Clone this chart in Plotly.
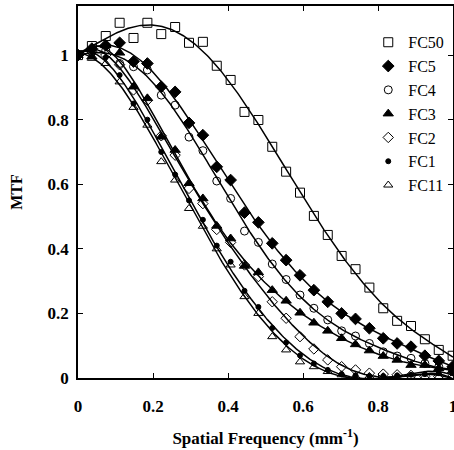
import numpy as np
import plotly.graph_objects as go

freq = [round(i * 0.037, 3) for i in range(28)]

fc50 = [1.0, 1.028, 1.059, 1.10, 1.053, 1.10, 1.065, 1.087, 1.038, 1.041, 0.967, 0.923, 0.824, 0.799,
        0.716, 0.639, 0.574, 0.502, 0.443, 0.378, 0.337, 0.280, 0.216, 0.177, 0.161, 0.120, 0.087, 0.069]
fc5 = [1.0, 1.02, 1.03, 1.038, 0.98, 0.974, 0.902, 0.886, 0.79, 0.752, 0.654, 0.613, 0.512, 0.482,
       0.417, 0.365, 0.318, 0.272, 0.236, 0.200, 0.183, 0.154, 0.123, 0.107, 0.097, 0.069, 0.053, 0.035]
fc4 = [1.0, 1.01, 1.015, 0.974, 0.964, 0.954, 0.876, 0.845, 0.746, 0.704, 0.61, 0.556, 0.455, 0.42,
       0.353, 0.305, 0.257, 0.216, 0.18, 0.146, 0.130, 0.107, 0.081, 0.068, 0.061, 0.045, 0.035, 0.025]
fc3 = [1.0, 0.995, 1.03, 1.007, 0.902, 0.866, 0.747, 0.706, 0.603, 0.556, 0.471, 0.432, 0.347, 0.327,
       0.272, 0.239, 0.202, 0.171, 0.146, 0.123, 0.104, 0.085, 0.068, 0.056, 0.040, 0.040, 0.030, 0.023]
fc2 = [1.0, 1.01, 1.0, 0.97, 0.892, 0.86, 0.75, 0.69, 0.587, 0.54, 0.46, 0.42, 0.35, 0.314,
       0.236, 0.185, 0.128, 0.09, 0.056, 0.035, 0.025, 0.015, 0.012, 0.010, 0.008, 0.005, 0.005, 0.005]
fc1 = [1.0, 1.013, 0.993, 0.938, 0.85, 0.80, 0.70, 0.63, 0.55, 0.49, 0.41, 0.36, 0.27, 0.22,
       0.155, 0.11, 0.07, 0.045, 0.025, 0.012, 0.008, 0.006, 0.006, 0.008, 0.010, 0.012, 0.015, 0.015]
fc11 = [1.0, 0.99, 0.974, 0.917, 0.838, 0.783, 0.67, 0.613, 0.525, 0.47, 0.40, 0.35, 0.252, 0.20,
        0.128, 0.087, 0.05, 0.035, 0.02, 0.01, 0.005, 0.005, 0.004, 0.004, 0.004, 0.004, 0.004, 0.004]

tick_vals = [0, 0.2, 0.4, 0.6, 0.8, 1]
tick_text = ["0", "0.2", "0.4", "0.6", "0.8", "1"]

series = [
    ("FC50", fc50, "square-open", 9),
    ("FC5", fc5, "diamond", 9),
    ("FC4", fc4, "circle-open", 8),
    ("FC3", fc3, "triangle-up", 9),
    ("FC2", fc2, "diamond-open", 8),
    ("FC1", fc1, "circle", 5),
    ("FC11", fc11, "triangle-up-open", 8),
]

fig = go.Figure()
xs = np.linspace(0, 1, 300)
for name, ys, sym, sz in series:
    coef = np.polyfit(freq, ys, 6)
    fy = np.polyval(coef, xs)
    fig.add_trace(go.Scatter(x=xs, y=fy, mode="lines", line=dict(color="black", width=1.5),
                             showlegend=False, hoverinfo="skip"))
for name, ys, sym, sz in series:
    fig.add_trace(go.Scatter(x=freq, y=ys, mode="markers", name=name,
                             marker=dict(symbol=sym, size=sz, color="black",
                                         line=dict(color="black", width=1))))

font_serif = "Liberation Serif, Times New Roman, serif"
fig.update_layout(
    width=454, height=450,
    margin=dict(l=78, r=1, t=6, b=72, autoexpand=False),
    paper_bgcolor="white", plot_bgcolor="white",
    font=dict(family=font_serif, color="black"),
    legend=dict(x=0.774, y=0.948, xanchor="left", yanchor="top", bgcolor="rgba(0,0,0,0)",
                font=dict(family=font_serif, size=16), itemwidth=30, tracegroupgap=0),
    xaxis=dict(range=[0, 1], tickvals=tick_vals, ticktext=tick_text, automargin=False,
               showgrid=False, zeroline=False, showline=True, linecolor="black", linewidth=2,
               mirror="ticks", ticks="inside", ticklen=5, tickcolor="black", ticklabelstandoff=12,
               ticklabeloverflow="allow",
               tickfont=dict(family=font_serif, size=17, weight="bold"),
               title=dict(text="Spatial Frequency (mm<sup>-1</sup>)",
                          font=dict(family=font_serif, size=17, weight="bold"), standoff=17)),
    yaxis=dict(range=[0, 1.152], tickvals=tick_vals, ticktext=tick_text, automargin=False,
               showgrid=False, zeroline=False, showline=True, linecolor="black", linewidth=1.5,
               mirror="ticks", ticks="inside", ticklen=5, tickcolor="black", ticklabelstandoff=4,
               tickfont=dict(family=font_serif, size=17, weight="bold"),
               title=dict(text="MTF", font=dict(family=font_serif, size=16, weight="bold"), standoff=21)),
)

fig.write_html("out.html", config={"displayModeBar": False},
               post_script="document.body.style.margin='0px';")
